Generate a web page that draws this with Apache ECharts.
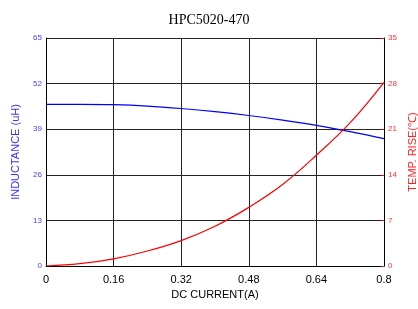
<!DOCTYPE html>
<html>
<head>
<meta charset="utf-8">
<script src="https://cdn.jsdelivr.net/npm/echarts@6/dist/echarts.min.js"></script>
<style>
  html, body { margin: 0; padding: 0; background: #fff; }
  #chart { width: 418px; height: 309px; }
</style>
</head>
<body>
<div id="chart"></div>
<script>
// 数据 - HPC5020-470
const current = [0, 0.08, 0.16, 0.24, 0.32, 0.4, 0.48, 0.56, 0.64, 0.72, 0.8]
const inductance = [46.1, 46.1, 46.0, 45.6, 44.9, 44.0, 42.9, 41.6, 40.1, 38.3, 36.3]
const tempRise = [0, 0.35, 1.1, 2.3, 3.9, 6.1, 9.0, 12.5, 17.0, 22.0, 28.2]

const myChart = echarts.init(document.getElementById('chart'))
myChart.setOption({
  animation: false,
  title: {
    text: 'HPC5020-470',
    left: 'center',
    top: 8,
    textStyle: {
      fontFamily: 'Liberation Serif',
      fontWeight: 'normal',
      fontSize: 14,
      color: '#000'
    }
  },
  grid: {
    left: 46,
    right: 34,
    top: 38,
    bottom: 43,
    outerBoundsMode: 'none'
  },
  xAxis: {
    type: 'value',
    min: 0,
    max: 0.8,
    interval: 0.16,
    name: 'DC CURRENT(A)',
    nameLocation: 'middle',
    nameGap: 22,
    nameTextStyle: { color: '#000', fontSize: 11, fontFamily: 'Liberation Sans' },
    axisLine: { lineStyle: { color: '#000' } },
    axisTick: { show: false },
    splitLine: { show: true, lineStyle: { color: '#222', width: 1 } },
    axisLabel: {
      color: '#000',
      fontSize: 11,
      fontFamily: 'Liberation Sans',
      margin: 8,
      formatter: v => String(+v.toFixed(2))
    }
  },
  yAxis: [
    {
      type: 'value',
      min: 0,
      max: 65,
      interval: 13,
      name: 'INDUCTANCE (uH)',
      nameLocation: 'middle',
      nameRotate: 90,
      nameGap: 25,
      nameTextStyle: { color: '#3333ff', fontSize: 11, fontFamily: 'Liberation Sans' },
      axisLine: { show: true, lineStyle: { color: '#000' } },
      axisTick: { show: false },
      splitLine: { show: true, lineStyle: { color: '#222', width: 1 } },
      axisLabel: { color: '#4444ff', fontSize: 8, fontFamily: 'Liberation Sans', margin: 4 }
    },
    {
      type: 'value',
      min: 0,
      max: 35,
      interval: 7,
      position: 'right',
      name: 'TEMP. RISE(℃)',
      nameLocation: 'middle',
      nameRotate: 90,
      nameGap: 19,
      nameTextStyle: { color: '#ff2222', fontSize: 11, fontFamily: 'Liberation Sans' },
      axisLine: { show: true, lineStyle: { color: '#000' } },
      axisTick: { show: true, inside: true, length: 3, lineStyle: { color: '#ff0000' } },
      splitLine: { show: false },
      axisLabel: { color: '#ff3333', fontSize: 8, fontFamily: 'Liberation Sans', margin: 4 }
    }
  ],
  series: [
    {
      name: 'INDUCTANCE',
      type: 'line',
      yAxisIndex: 0,
      smooth: 0.4,
      symbol: 'none',
      lineStyle: { color: '#0000ff', width: 1.2 },
      data: current.map((x, i) => [x, inductance[i]])
    },
    {
      name: 'TEMP. RISE',
      type: 'line',
      yAxisIndex: 1,
      smooth: 0.4,
      symbol: 'none',
      lineStyle: { color: '#ff0000', width: 1.2 },
      data: current.map((x, i) => [x, tempRise[i]])
    }
  ]
})
</script>
</body>
</html>
